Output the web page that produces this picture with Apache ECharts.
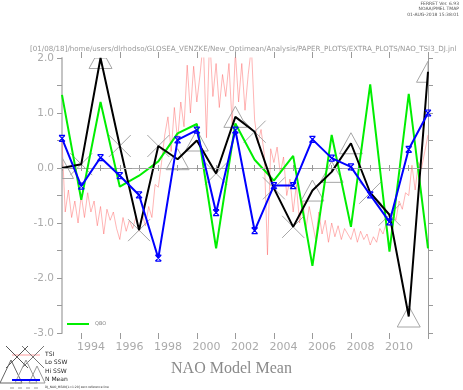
<!DOCTYPE html>
<html><head><meta charset="utf-8">
<script src="https://cdn.jsdelivr.net/npm/echarts@6/dist/echarts.min.js"></script>
<style>html,body{margin:0;padding:0;background:#fff}#c{width:463px;height:390px}</style>
</head><body><div id="c"></div>
<script>
const years = [1993,1994,1995,1996,1997,1998,1999,2000,2001,2002,2003,2004,2005,2006,2007,2008,2009,2010,2011,2012];
const labelYears = ['1993','1994','1995','1996','1997','1998','1999','2000','2001','2002','2003','2004','2005','2006','2007','2008','2009','2010','2011'];
const blackSeries = [0.0,0.07,2.0,0.4,-1.13,0.4,0.16,0.5,-0.1,0.93,0.66,-0.37,-1.07,-0.41,-0.07,0.45,-0.45,-0.85,-2.7,1.75];
const qboSeries = [1.33,-0.58,1.2,-0.34,-0.14,0.12,0.63,0.8,-1.46,0.81,0.15,-0.23,0.22,-1.78,0.6,-1.07,1.52,-1.52,1.35,-1.46];
const nMeanSeries = [0.54,-0.33,0.19,-0.14,-0.49,-1.64,0.51,0.69,-0.81,0.69,-1.14,-0.32,-0.32,0.52,0.18,0.02,-0.49,-0.98,0.34,1.0];
const hiSSWYears = [1993,1995,1999,2000,2002,2006,2007,2008,2011,2012];
const loSSWYears = [1994,1996,1997,1998,2001,2003,2004,2005,2009,2010];
const tsiStart = 1993;
const tsiPerYear = 6;
const tsiValues = [
  0.5,-0.8,-0.4,-0.9,-0.6,-1.0,
  -0.5,-0.9,-0.45,-0.8,-0.6,-1.05,
  -0.7,-1.2,-0.75,-0.95,-0.8,-1.1,
  -1.3,-0.9,-1.15,-0.95,-1.1,-0.9,
  -1.15,-0.85,-1.05,-0.7,-0.9,-0.3,
  -0.35,0.1,0.6,0.93,0.3,1.1,
  0.5,1.2,0.75,1.87,1.0,1.85,
  1.2,1.7,2.3,0.55,2.4,1.3,
  1.9,1.1,1.7,1.3,1.9,0.8,
  2.1,1.2,1.9,1.05,1.7,2.2,
  0.87,0.45,0.7,0.25,-1.58,0.35,
  0.1,0.38,-0.1,0.2,-0.5,-0.2,
  -0.8,-0.3,-1.0,-0.6,-1.1,-0.7,
  -1.0,-1.3,-0.8,-1.2,-0.95,-1.35,
  -1.0,-1.25,-1.05,-1.3,-1.1,-1.2,
  -1.3,-1.1,-1.35,-1.15,-1.3,-1.2,
  -1.4,-1.25,-1.35,-1.1,-1.2,-1.0,
  -1.05,-0.8,-0.95,-0.6,-0.75,-0.45,
  -0.5,0.05,-0.4,0.1,0.0,0.3,
  0.6
];
const titleText = '[01/08/18]/home/users/dlrhodso/GLOSEA_VENZKE/New_Optimean/Analysis/PAPER_PLOTS/EXTRA_PLOTS/NAO_TSI3_DJ.jnl';

const pair = (arr) => arr.map((v, i) => [years[i], v]);
const markerPts = (ys) => ys.map(y => [y, blackSeries[years.indexOf(y)]]);
const tsiData = tsiValues.map((v, i) => [tsiStart + i / tsiPerYear, v]);

const AX = '#9a9a9a', LB = '#aaaaaa', MK = '#a6a6a6';
const blueSym = 'path://M0,0L10,10M10,0L0,10M0,0L10,0M0,10L10,10';

// Sutherland-Hodgman clip of a marker outline to the plot rectangle
function clipPolygon(pts, r) {
  const x0 = r.x, y0 = r.y, x1 = r.x + r.width, y1 = r.y + r.height;
  const lerpX = (a, b, x) => [x, a[1] + (x - a[0]) / (b[0] - a[0]) * (b[1] - a[1])];
  const lerpY = (a, b, y) => [a[0] + (y - a[1]) / (b[1] - a[1]) * (b[0] - a[0]), y];
  const edges = [
    [p => p[0] >= x0, (a, b) => lerpX(a, b, x0)],
    [p => p[0] <= x1, (a, b) => lerpX(a, b, x1)],
    [p => p[1] >= y0, (a, b) => lerpY(a, b, y0)],
    [p => p[1] <= y1, (a, b) => lerpY(a, b, y1)]
  ];
  let out = pts;
  for (const [inside, inter] of edges) {
    const inp = out; out = [];
    for (let i = 0; i < inp.length; i++) {
      const cur = inp[i], prev = inp[(i + inp.length - 1) % inp.length];
      if (inside(cur)) { if (!inside(prev)) out.push(inter(prev, cur)); out.push(cur); }
      else if (inside(prev)) out.push(inter(prev, cur));
    }
  }
  return out;
}
const triItem = (params, api) => {
  const p = api.coord([api.value(0), api.value(1)]);
  const pts = clipPolygon([[p[0]-11.5,p[1]+10.5],[p[0]+11.5,p[1]+10.5],[p[0],p[1]-10.5]], params.coordSys);
  return {type:'polygon', shape:{points:pts}, style:{fill:'none', stroke:MK, lineWidth:1}};
};
const xItem = (params, api) => {
  const p = api.coord([api.value(0), api.value(1)]);
  const h = 11;
  return {type:'group', children:[
    {type:'line', shape:{x1:p[0]-h, y1:p[1]-h, x2:p[0]+h, y2:p[1]+h}, style:{stroke:MK, lineWidth:1}},
    {type:'line', shape:{x1:p[0]-h, y1:p[1]+h, x2:p[0]+h, y2:p[1]-h}, style:{stroke:MK, lineWidth:1}}
  ]};
};

const chart = echarts.init(document.getElementById('c'), null, {renderer: 'canvas'});
const valX = (pos) => ({type:'value', position:pos, min:1993, max:2012, interval:1,
  axisLine:{show:true, lineStyle:{color:AX, width:1}}, axisTick:{show:true, length:3, lineStyle:{color:AX}},
  axisLabel:{show:false}, splitLine:{show:false}});
const majX = (pos) => ({type:'category', position:pos, data:years.map(String), boundaryGap:false,
  axisLine:{show:false}, axisTick:{show:true, length:6, interval:(i)=>years[i]%2===0, lineStyle:{color:AX}},
  axisLabel:{show:false}, splitLine:{show:false}});
const valY = (pos, withLabels) => ({type:'value', position:pos, min:-3, max:2, interval:0.5,
  axisLine:{show:true, lineStyle:{color: pos==='left' ? '#c4c4c4' : AX, width: pos==='left' ? 2 : 1}},
  axisTick:{show:true, length:5, lineStyle:{color:AX}},
  axisLabel:{show:withLabels, color:LB, fontSize:10.5, fontFamily:'DejaVu Sans', margin:8,
    formatter:(v)=> Math.abs(v - Math.round(v)) < 1e-6 ? v.toFixed(1) : ''},
  splitLine:{show:false}});

chart.setOption({
  animation:false,
  backgroundColor:'#fff',
  grid:{left:62, right:35, top:58, bottom:57, containLabel:false},
  xAxis:[
    valX('bottom'),
    valX('top'),
    majX('bottom'),
    majX('top'),
    {type:'category', position:'bottom', data:labelYears, boundaryGap:true,
      axisLine:{show:false}, axisTick:{show:false},
      axisLabel:{show:true, interval:(i)=>(+labelYears[i])%2===0, color:LB, fontSize:11, fontFamily:'DejaVu Sans', margin:9},
      splitLine:{show:false}}
  ],
  yAxis:[valY('left', true), valY('right', false)],
  title:[
    {text:titleText, left:25, top:41, textStyle:{fontSize:7.1, fontWeight:'normal', color:'#999', fontFamily:'DejaVu Sans'}},
    {text:'NAO Model Mean', left:'center', top:356, textStyle:{fontSize:16, fontWeight:'normal', color:'#8a8a8a', fontFamily:'Liberation Serif'}}
  ],
  graphic:[
    {type:'text', right:4, top:1, style:{text:'FERRET Ver. 6.93', fontSize:4.5, fill:'#555', fontFamily:'DejaVu Sans'}},
    {type:'text', right:4, top:6.5, style:{text:'NOAA/PMEL TMAP', fontSize:4.5, fill:'#555', fontFamily:'DejaVu Sans'}},
    {type:'text', right:4, top:12, style:{text:'01-AUG-2018 15:38:01', fontSize:4.5, fill:'#555', fontFamily:'DejaVu Sans'}},
    {type:'line', shape:{x1:67, y1:324, x2:89, y2:324}, style:{stroke:'#00ee00', lineWidth:2}},
    {type:'text', left:95, top:321.5, style:{text:'QBO', fontSize:5, fill:'#888', fontFamily:'DejaVu Sans'}},
    {type:'line', shape:{x1:12, y1:355, x2:40, y2:355}, style:{stroke:'rgba(255,90,90,0.6)', lineWidth:1}},
    {type:'polyline', shape:{points:[[6,346],[28,368]]}, style:{stroke:'#555', lineWidth:1}},
    {type:'polyline', shape:{points:[[28,346],[6,368]]}, style:{stroke:'#555', lineWidth:1}},
    {type:'polyline', shape:{points:[[22,346],[44,368]]}, style:{stroke:'#777', lineWidth:1}},
    {type:'polyline', shape:{points:[[44,346],[22,368]]}, style:{stroke:'#777', lineWidth:1}},
    {type:'polygon', shape:{points:[[0,383],[22,383],[11,360]]}, style:{stroke:'#666', fill:'none', lineWidth:1}},
    {type:'polygon', shape:{points:[[15,383],[37,383],[26,360]]}, style:{stroke:'#999', fill:'none', lineWidth:1}},
    {type:'polygon', shape:{points:[[29,383],[45,383],[37,366]]}, style:{stroke:'#999', fill:'none', lineWidth:1}},
    {type:'line', shape:{x1:12, y1:380, x2:40, y2:380}, style:{stroke:'#0000ff', lineWidth:2}},
    {type:'line', shape:{x1:10, y1:388, x2:40, y2:388}, style:{stroke:'#999', lineWidth:1, lineDash:[4,4]}},
    {type:'text', left:45, top:351, style:{text:'TSI', fontSize:6, fill:'#222', fontFamily:'DejaVu Sans'}},
    {type:'text', left:45, top:359.5, style:{text:'Lo SSW', fontSize:6, fill:'#222', fontFamily:'DejaVu Sans'}},
    {type:'text', left:45, top:368, style:{text:'Hi SSW', fontSize:6, fill:'#222', fontFamily:'DejaVu Sans'}},
    {type:'text', left:45, top:376.5, style:{text:'N Mean', fontSize:6, fill:'#222', fontFamily:'DejaVu Sans'}},
    {type:'text', left:45, top:386, style:{text:'DJ_NAO_MEAN[L=1:20] zero reference line', fontSize:3, fill:'#333', fontFamily:'DejaVu Sans'}}
  ],
  series:[
    {name:'TSI', type:'line', xAxisIndex:0, yAxisIndex:0, data:tsiData, showSymbol:false, symbol:'none',
      lineStyle:{color:'rgba(255,90,90,0.45)', width:1}, z:1,
      markLine:{silent:true, symbol:'none', label:{show:false}, data:[{yAxis:0}],
        lineStyle:{color:'#aaa', type:[8,6], width:1}}},
    {name:'Hi SSW', type:'custom', xAxisIndex:0, yAxisIndex:0, data:markerPts(hiSSWYears), renderItem:triItem, clip:true, z:2},
    {name:'Lo SSW', type:'custom', xAxisIndex:0, yAxisIndex:0, data:markerPts(loSSWYears), renderItem:xItem, clip:true, z:2},
    {name:'QBO', type:'line', xAxisIndex:0, yAxisIndex:0, data:pair(qboSeries), symbol:'none',
      lineStyle:{color:'#00ee00', width:2}, z:3},
    {name:'Mean', type:'line', xAxisIndex:0, yAxisIndex:0, data:pair(blackSeries), symbol:'none',
      lineStyle:{color:'#000', width:2}, z:4},
    {name:'N Mean', type:'line', xAxisIndex:0, yAxisIndex:0, data:pair(nMeanSeries), symbol:blueSym, symbolSize:6, showSymbol:true,
      color:'#0000ff', lineStyle:{color:'#0000ff', width:2}, itemStyle:{color:'#0000ff', borderColor:'#0000ff', borderWidth:1.2}, z:5}
  ]
});
</script></body></html>
